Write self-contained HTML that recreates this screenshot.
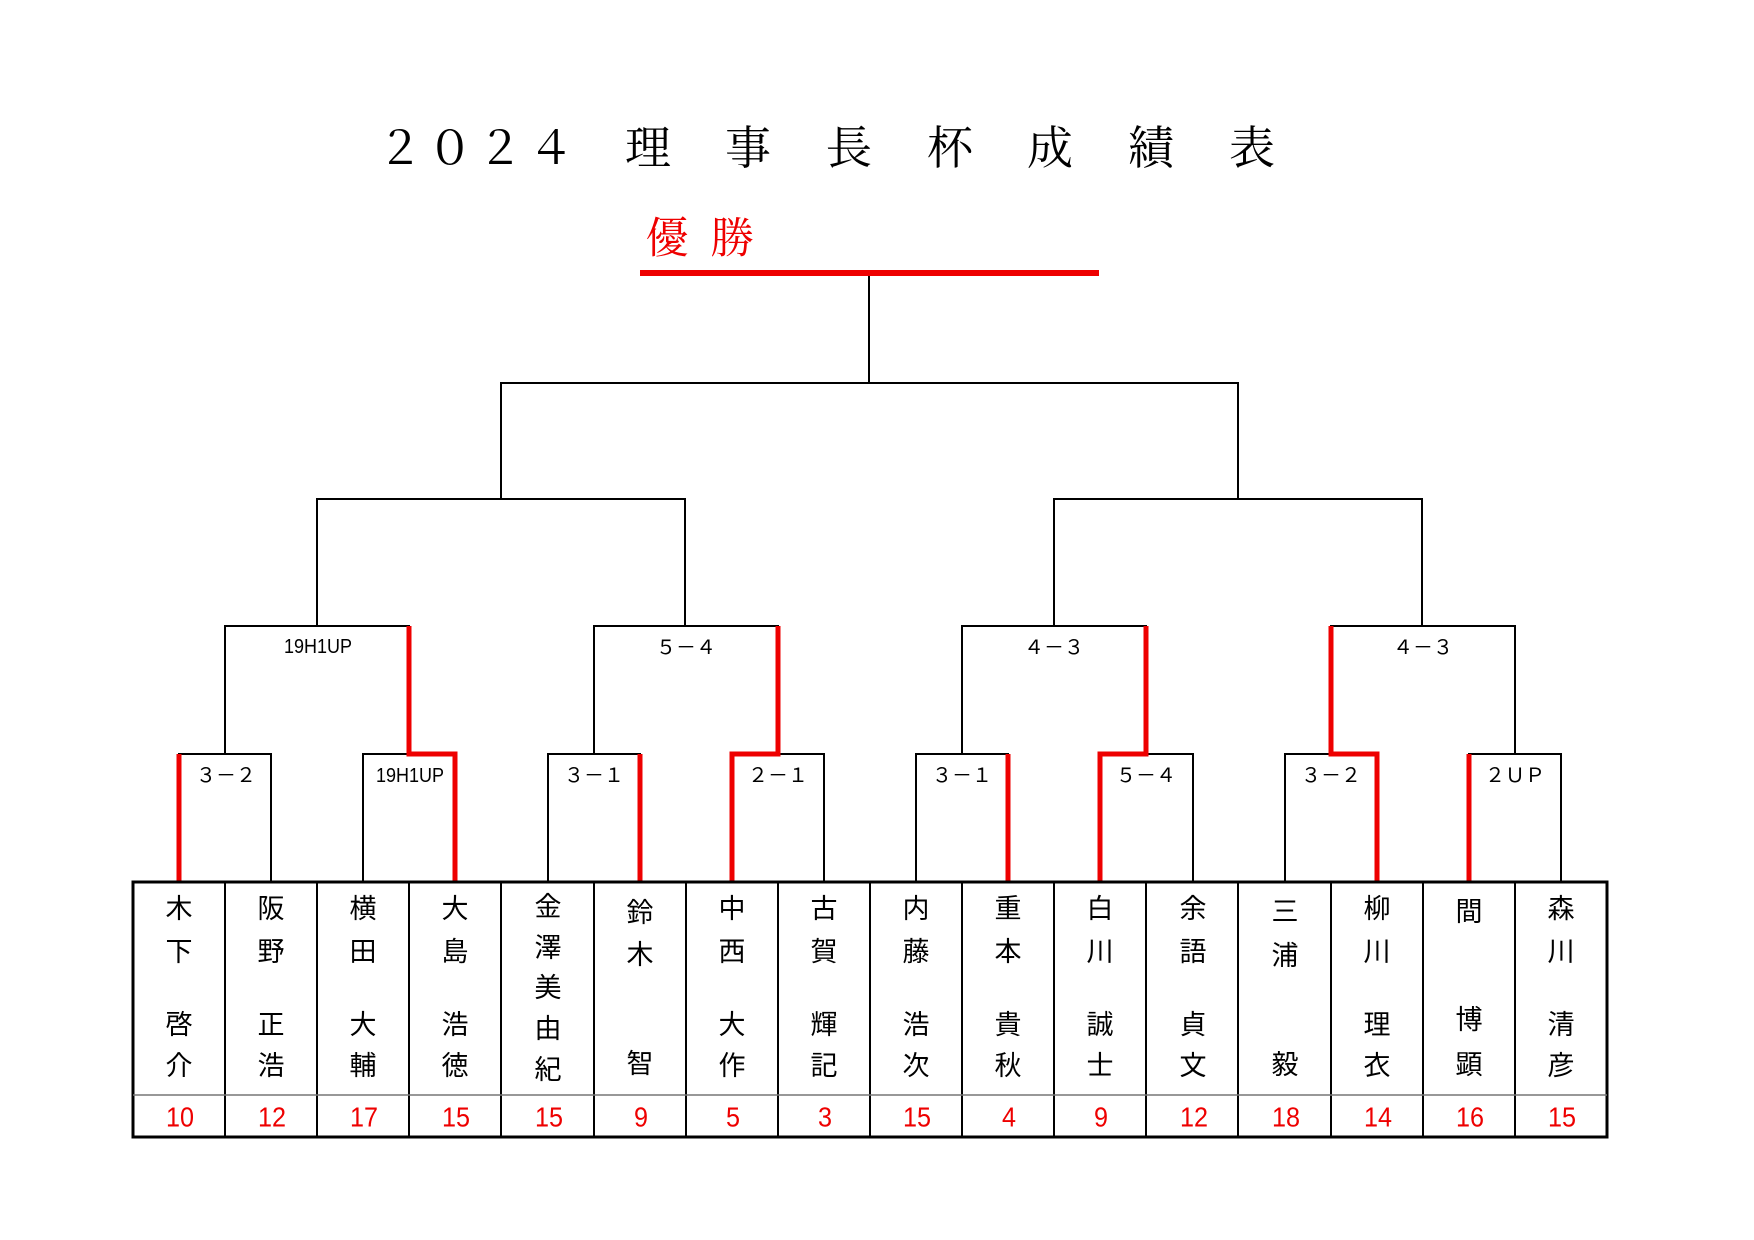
<!DOCTYPE html>
<html><head><meta charset="utf-8"><style>
html,body{margin:0;padding:0;background:#fff;}
svg{display:block;}
.t{font-family:"Liberation Serif","Noto Serif CJK JP",serif;font-size:46px;fill:#000;text-anchor:middle;}
.n{font-family:"Liberation Sans","Noto Sans CJK JP",sans-serif;font-size:27px;fill:#000;text-anchor:middle;dominant-baseline:central;}
.s{font-family:"Liberation Sans",sans-serif;font-size:28px;fill:#e00;text-anchor:middle;dominant-baseline:central;}
.l{font-family:"Liberation Sans","Noto Sans CJK JP",sans-serif;font-size:20px;fill:#000;text-anchor:middle;dominant-baseline:central;}
</style></head><body>
<svg width="1754" height="1240" viewBox="0 0 1754 1240" xmlns="http://www.w3.org/2000/svg">
<rect width="1754" height="1240" fill="#fff"/>
<!-- title -->
<g class="t">
<text x="400" y="164">２</text><text x="450" y="164">０</text><text x="500" y="164">２</text><text x="551" y="164">４</text>
<text x="648" y="164">理</text><text x="748" y="164">事</text><text x="849" y="164">長</text><text x="950" y="164">杯</text><text x="1050" y="164">成</text><text x="1151" y="164">績</text><text x="1252" y="164">表</text>
</g>
<text x="667" y="253" style="font-family:'Liberation Serif','Noto Serif CJK JP',serif;font-size:43px;fill:#e00;text-anchor:middle">優</text>
<text x="732" y="253" style="font-family:'Liberation Serif','Noto Serif CJK JP',serif;font-size:43px;fill:#e00;text-anchor:middle">勝</text>
<line x1="640" y1="273" x2="1099" y2="273" stroke="#e00" stroke-width="6"/>

<g stroke="#000" stroke-width="2" fill="none">
<!-- final -->
<line x1="869" y1="276" x2="869" y2="383"/>
<polyline points="501,499 501,383 1238,383 1238,499"/>
<!-- semis -->
<polyline points="317,626 317,499 685,499 685,626"/>
<polyline points="1054,626 1054,499 1422,499 1422,626"/>
<!-- R2 boxes -->
<polyline points="225,754 225,626 409,626 409,754"/>
<polyline points="594,754 594,626 778,626 778,754"/>
<polyline points="962,754 962,626 1146,626 1146,754"/>
<polyline points="1331,754 1331,626 1515,626 1515,754"/>
<!-- R1 boxes -->
<polyline points="179,882 179,754 271,754 271,882"/>
<polyline points="363,882 363,754 455,754 455,882"/>
<polyline points="548,882 548,754 640,754 640,882"/>
<polyline points="732,882 732,754 824,754 824,882"/>
<polyline points="916,882 916,754 1008,754 1008,882"/>
<polyline points="1100,882 1100,754 1193,754 1193,882"/>
<polyline points="1285,882 1285,754 1377,754 1377,882"/>
<polyline points="1469,882 1469,754 1561,754 1561,882"/>
</g>
<g stroke="#e00" stroke-width="5" fill="none" stroke-linejoin="miter">
<line x1="179" y1="882" x2="179" y2="754"/>
<polyline points="455,882 455,754 409,754 409,626"/>
<line x1="640" y1="882" x2="640" y2="754"/>
<polyline points="732,882 732,754 778,754 778,626"/>
<line x1="1008" y1="882" x2="1008" y2="754"/>
<polyline points="1100,882 1100,754 1146,754 1146,626"/>
<polyline points="1377,882 1377,754 1331,754 1331,626"/>
<line x1="1469" y1="882" x2="1469" y2="754"/>
</g>
<!-- labels -->
<g class="l">
<text x="318" y="647" textLength="68" lengthAdjust="spacingAndGlyphs">19H1UP</text>
<text x="686" y="648">５－４</text>
<text x="1054" y="648">４－３</text>
<text x="1423" y="648">４－３</text>
<text x="226" y="776">３－２</text>
<text x="410" y="776" textLength="68" lengthAdjust="spacingAndGlyphs">19H1UP</text>
<text x="594" y="776">３－１</text>
<text x="778" y="776">２－１</text>
<text x="962" y="776">３－１</text>
<text x="1146" y="776">５－４</text>
<text x="1331" y="776">３－２</text>
<text x="1515" y="776">２ＵＰ</text>
</g>
<!-- table -->
<g stroke="#000" stroke-width="2" fill="none">
<rect x="133" y="882" width="1474" height="255" stroke-width="3"/>
<line x1="225" y1="882" x2="225" y2="1137"/><line x1="317" y1="882" x2="317" y2="1137"/>
<line x1="409" y1="882" x2="409" y2="1137"/><line x1="501" y1="882" x2="501" y2="1137"/>
<line x1="594" y1="882" x2="594" y2="1137"/><line x1="686" y1="882" x2="686" y2="1137"/>
<line x1="778" y1="882" x2="778" y2="1137"/><line x1="870" y1="882" x2="870" y2="1137"/>
<line x1="962" y1="882" x2="962" y2="1137"/><line x1="1054" y1="882" x2="1054" y2="1137"/>
<line x1="1146" y1="882" x2="1146" y2="1137"/><line x1="1238" y1="882" x2="1238" y2="1137"/>
<line x1="1331" y1="882" x2="1331" y2="1137"/><line x1="1423" y1="882" x2="1423" y2="1137"/>
<line x1="1515" y1="882" x2="1515" y2="1137"/>
<line x1="133" y1="1095" x2="1607" y2="1095" stroke="#777" stroke-width="1.5"/>
</g>
<g class="n">
<text x="179" y="909">木</text><text x="179" y="952">下</text><text x="179" y="1025">啓</text><text x="179" y="1066">介</text>
<text x="271" y="909">阪</text><text x="271" y="952">野</text><text x="271" y="1025">正</text><text x="271" y="1066">浩</text>
<text x="363" y="909">横</text><text x="363" y="952">田</text><text x="363" y="1025">大</text><text x="363" y="1066">輔</text>
<text x="455" y="909">大</text><text x="455" y="952">島</text><text x="455" y="1025">浩</text><text x="455" y="1066">徳</text>
<text x="548" y="907">金</text><text x="548" y="948">澤</text><text x="548" y="988">美</text><text x="548" y="1029">由</text><text x="548" y="1070">紀</text>
<text x="640" y="913">鈴</text><text x="640" y="955">木</text><text x="640" y="1064">智</text>
<text x="732" y="909">中</text><text x="732" y="952">西</text><text x="732" y="1025">大</text><text x="732" y="1066">作</text>
<text x="824" y="909">古</text><text x="824" y="952">賀</text><text x="824" y="1025">輝</text><text x="824" y="1066">記</text>
<text x="916" y="909">内</text><text x="916" y="952">藤</text><text x="916" y="1025">浩</text><text x="916" y="1066">次</text>
<text x="1008" y="909">重</text><text x="1008" y="952">本</text><text x="1008" y="1025">貴</text><text x="1008" y="1066">秋</text>
<text x="1100" y="909">白</text><text x="1100" y="952">川</text><text x="1100" y="1025">誠</text><text x="1100" y="1066">士</text>
<text x="1193" y="909">余</text><text x="1193" y="952">語</text><text x="1193" y="1025">貞</text><text x="1193" y="1066">文</text>
<text x="1285" y="912">三</text><text x="1285" y="956">浦</text><text x="1285" y="1065">毅</text>
<text x="1377" y="909">柳</text><text x="1377" y="952">川</text><text x="1377" y="1025">理</text><text x="1377" y="1066">衣</text>
<text x="1469" y="912">間</text><text x="1469" y="1020">博</text><text x="1469" y="1065">顕</text>
<text x="1561" y="909">森</text><text x="1561" y="952">川</text><text x="1561" y="1025">清</text><text x="1561" y="1066">彦</text>
</g>
<g class="s">
<text x="180" y="1117" textLength="28" lengthAdjust="spacingAndGlyphs">10</text>
<text x="272" y="1117" textLength="28" lengthAdjust="spacingAndGlyphs">12</text>
<text x="364" y="1117" textLength="28" lengthAdjust="spacingAndGlyphs">17</text>
<text x="456" y="1117" textLength="28" lengthAdjust="spacingAndGlyphs">15</text>
<text x="549" y="1117" textLength="28" lengthAdjust="spacingAndGlyphs">15</text>
<text x="641" y="1117" textLength="14" lengthAdjust="spacingAndGlyphs">9</text>
<text x="733" y="1117" textLength="14" lengthAdjust="spacingAndGlyphs">5</text>
<text x="825" y="1117" textLength="14" lengthAdjust="spacingAndGlyphs">3</text>
<text x="917" y="1117" textLength="28" lengthAdjust="spacingAndGlyphs">15</text>
<text x="1009" y="1117" textLength="14" lengthAdjust="spacingAndGlyphs">4</text>
<text x="1101" y="1117" textLength="14" lengthAdjust="spacingAndGlyphs">9</text>
<text x="1194" y="1117" textLength="28" lengthAdjust="spacingAndGlyphs">12</text>
<text x="1286" y="1117" textLength="28" lengthAdjust="spacingAndGlyphs">18</text>
<text x="1378" y="1117" textLength="28" lengthAdjust="spacingAndGlyphs">14</text>
<text x="1470" y="1117" textLength="28" lengthAdjust="spacingAndGlyphs">16</text>
<text x="1562" y="1117" textLength="28" lengthAdjust="spacingAndGlyphs">15</text>
</g>
</svg>
</body></html>
